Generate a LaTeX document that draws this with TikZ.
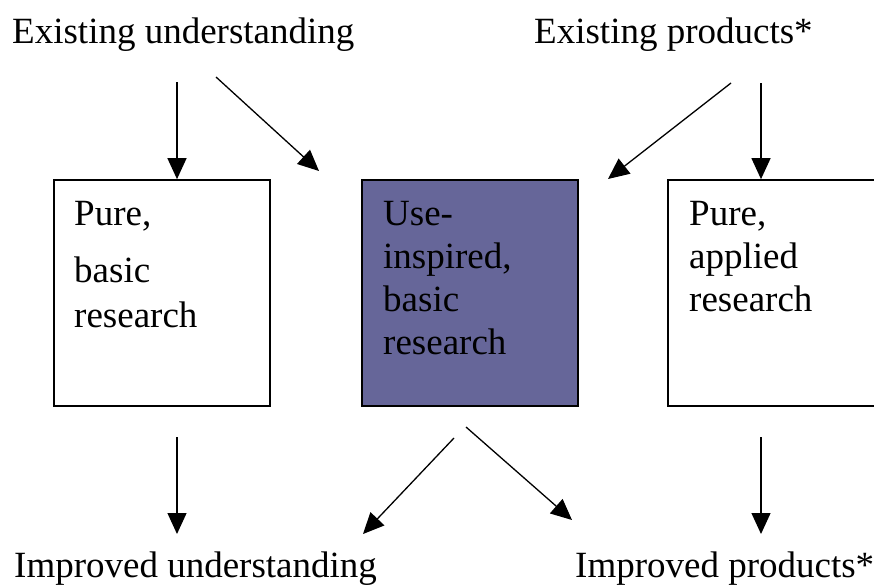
\documentclass[tikz,border=0pt]{standalone}
\usepackage{fontspec}
\setmainfont{Liberation Serif}
\usetikzlibrary{arrows.meta,positioning}
\definecolor{useblue}{RGB}{102,102,153}

\begin{document}
\begin{tikzpicture}[x=1pt, y=-1pt,
  lbl/.style={font=\fontsize{37}{43}\selectfont, inner sep=0pt},
  boxtxt/.style={lbl, align=left, anchor=north west},
  resbox/.style={draw, line width=1.7pt, minimum width=216pt, minimum height=226pt, inner sep=0pt},
  arr/.style={-{Triangle[length=21pt, width=19pt]}, line width=1.3pt}]
\clip (0,0) rectangle (874,586);

% Top and bottom labels
\node[lbl, anchor=base west] (exund) at (12,44) {Existing understanding};
\node[lbl, anchor=base west] (exprod) at (534,44) {Existing products*};
\node[lbl, anchor=base west] (impund) at (14,577) {Improved understanding};
\node[lbl, anchor=base west] (impprod) at (575,577) {Improved products*};

% Research boxes
\node[resbox] (pureb) at (162,293) {};
\node[resbox, fill=useblue] (useb) at (470,293) {};
\node[resbox] (purea) at (776,293) {};
\node[boxtxt] (purebtxt) at (74,201) {Pure,\\[14pt]basic\\[2pt]research};
\node[boxtxt] (usebtxt) at (383,201) {Use-\\inspired,\\basic\\research};
\node[boxtxt] (pureatxt) at (689,201) {Pure,\\applied\\research};

% Arrows into the boxes
\coordinate (a1) at (177,82);
\coordinate (a2) at (216,77);
\coordinate (a2e) at (319,171);
\coordinate (a3) at (731,83);
\coordinate (a3e) at (608,179);
\coordinate (a4) at (761,83);
\draw[arr] (a1) -- (a1 |- pureb.north);
\draw[arr] (a2) -- (a2e);
\draw[arr] (a3) -- (a3e);
\draw[arr] (a4) -- (a4 |- purea.north);

% Arrows out of the boxes
\coordinate (b1) at (177,437);
\coordinate (b1e) at (177,534);
\coordinate (b2) at (454,438);
\coordinate (b2e) at (363,534);
\coordinate (b3) at (466,427);
\coordinate (b3e) at (572,520);
\coordinate (b4) at (761,437);
\coordinate (b4e) at (761,534);
\draw[arr] (b1) -- (b1e);
\draw[arr] (b2) -- (b2e);
\draw[arr] (b3) -- (b3e);
\draw[arr] (b4) -- (b4e);
\end{tikzpicture}
\end{document}
